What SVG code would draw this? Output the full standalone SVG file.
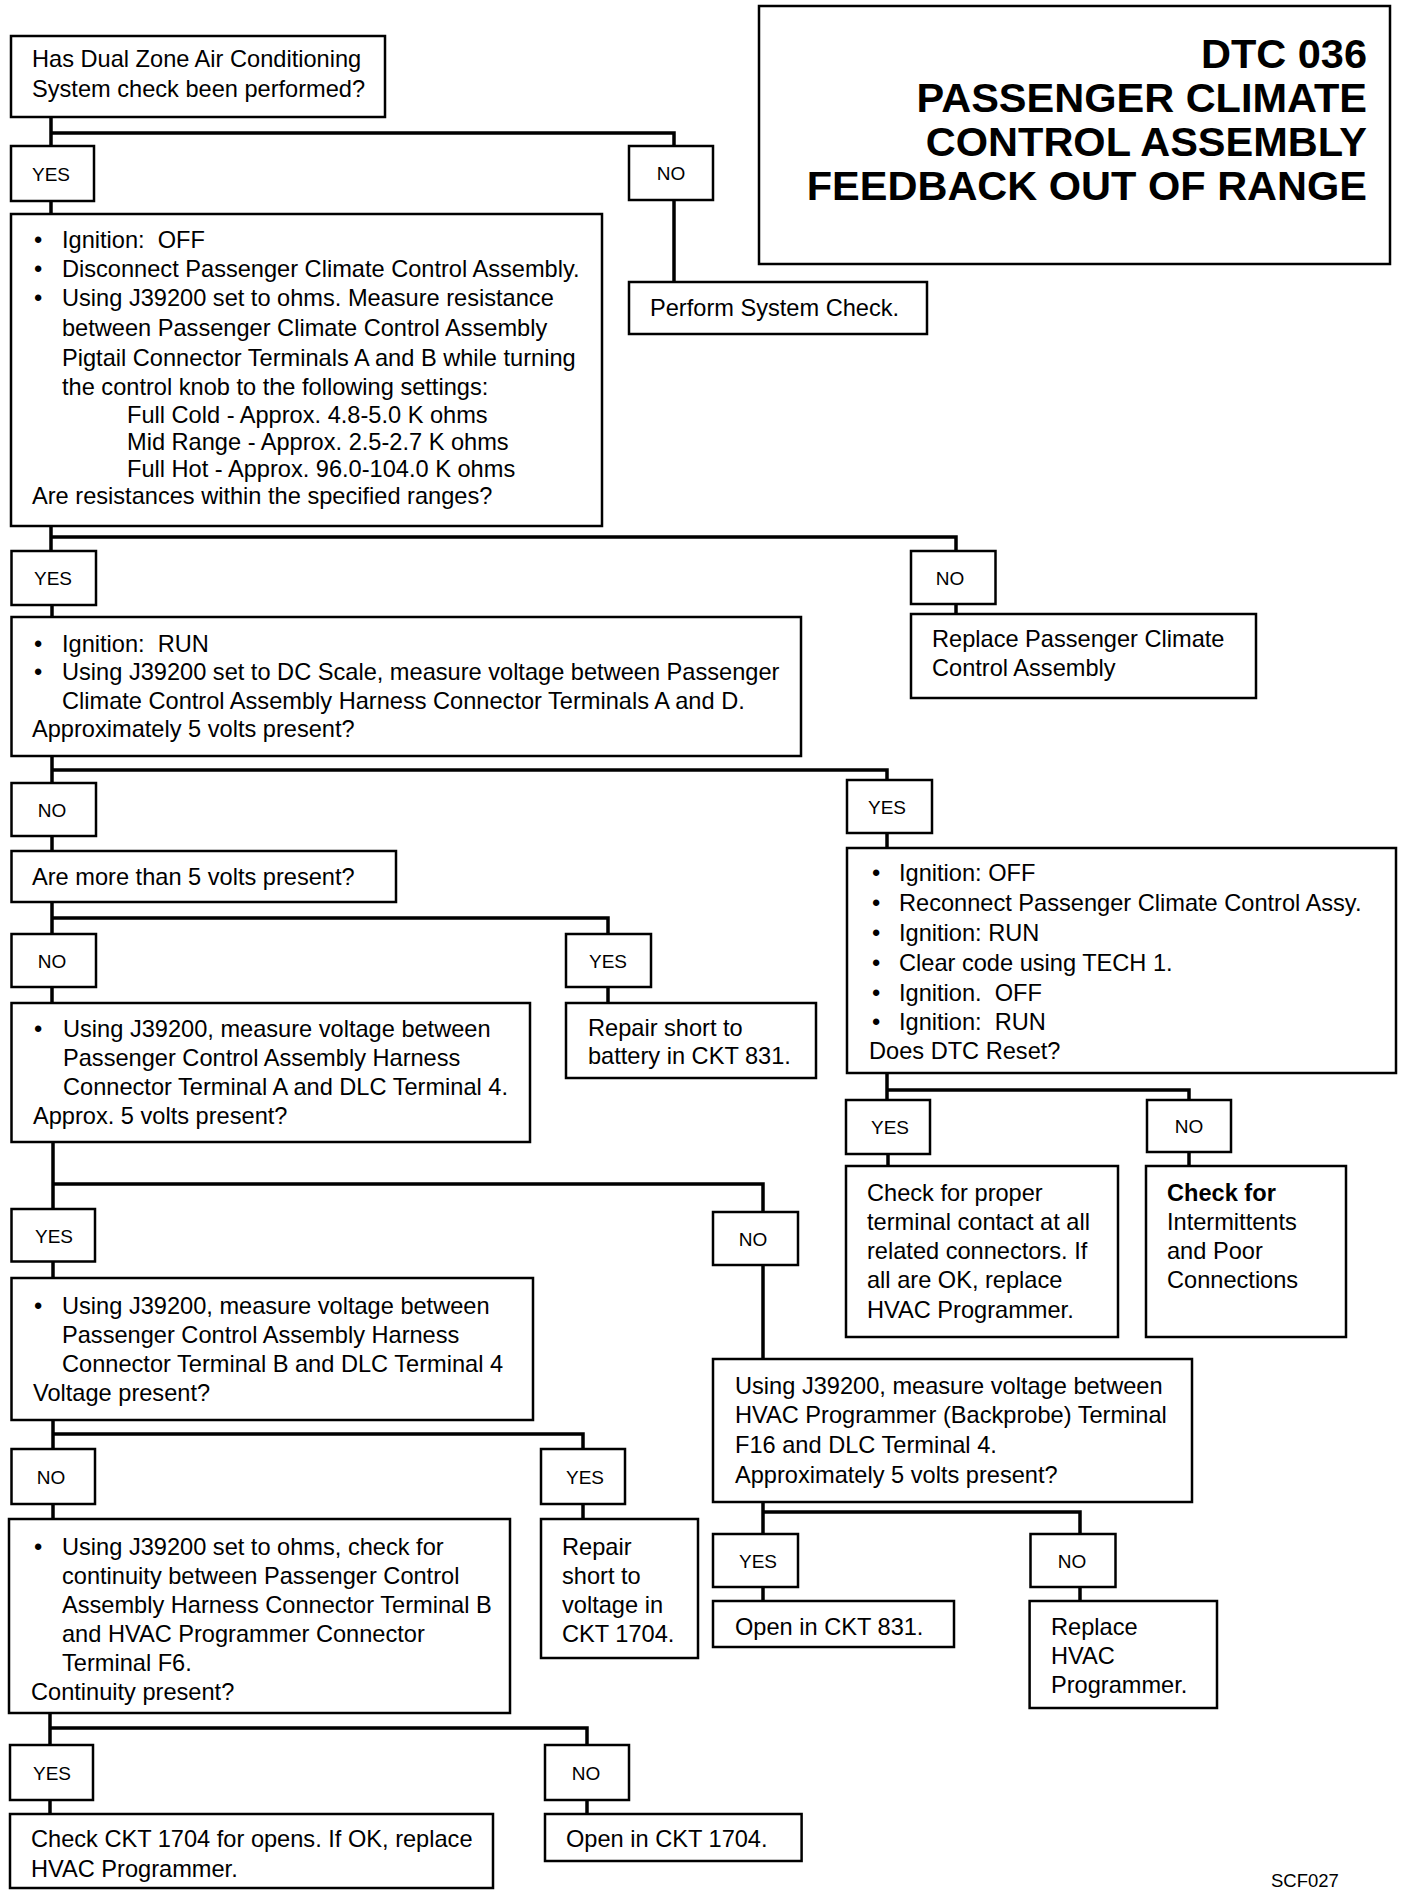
<svg xmlns="http://www.w3.org/2000/svg" width="1408" height="1896" viewBox="0 0 1408 1896">
<style>
.box{fill:#fff;stroke:#000;stroke-width:2.5}
.c{fill:none;stroke:#000;stroke-width:3.5;stroke-linecap:square;stroke-linejoin:miter}
text{font-family:"Liberation Sans",Arial,Helvetica,sans-serif;font-size:23.6px;fill:#000;white-space:pre}
.l{font-size:19px;text-anchor:middle}
.ti{font-weight:bold;font-size:41.5px;text-anchor:end}
.b{font-weight:bold}
.s{font-size:18.5px}
</style>
<rect width="1408" height="1896" fill="#fff"/>
<g id="connectors">
<path class="c" d="M51,117V146M51,133H674V146"/>
<path class="c" d="M51,201V214"/>
<path class="c" d="M674,200V282"/>
<path class="c" d="M51,526V551M51,537H956V551"/>
<path class="c" d="M956,604V614"/>
<path class="c" d="M52,605V617"/>
<path class="c" d="M52,756V783M52,770H887V780"/>
<path class="c" d="M887,833V848"/>
<path class="c" d="M52,836V851"/>
<path class="c" d="M52,902V934M52,918H608V934"/>
<path class="c" d="M52,987V1003"/>
<path class="c" d="M608,987V1003"/>
<path class="c" d="M53,1142V1209M53,1184H763V1212"/>
<path class="c" d="M53,1261V1278"/>
<path class="c" d="M763,1265V1359"/>
<path class="c" d="M53,1420V1449M53,1434H583V1449"/>
<path class="c" d="M53,1504V1519"/>
<path class="c" d="M583,1504V1519"/>
<path class="c" d="M50,1713V1745M50,1728H587V1745"/>
<path class="c" d="M50,1800V1814"/>
<path class="c" d="M587,1800V1814"/>
<path class="c" d="M887,1073V1100M887,1090H1189V1100"/>
<path class="c" d="M888,1154V1166"/>
<path class="c" d="M1189,1152V1166"/>
<path class="c" d="M763,1502V1534M763,1512H1080V1534"/>
<path class="c" d="M763,1587V1601"/>
<path class="c" d="M1080,1587V1601"/>
</g>
<g id="title">
<rect class="box" x="759" y="6" width="631" height="258"/>
<text class="ti" x="1367" y="68">DTC 036</text>
<text class="ti" x="1367" y="112">PASSENGER CLIMATE</text>
<text class="ti" x="1367" y="156">CONTROL ASSEMBLY</text>
<text class="ti" x="1367" y="200">FEEDBACK OUT OF RANGE</text>
</g>
<g id="n_start">
<rect class="box" x="11" y="36" width="374" height="81"/>
<text x="32" y="67">Has Dual Zone Air Conditioning</text>
<text x="32" y="97">System check been performed?</text>
</g>
<g id="l_yes1"><rect class="box" x="11" y="146" width="83" height="55"/><text class="l" x="51" y="181">YES</text></g>
<g id="l_no1"><rect class="box" x="629" y="146" width="84" height="54"/><text class="l" x="671" y="180">NO</text></g>
<g id="n_perform">
<rect class="box" x="629" y="282" width="298" height="52"/>
<text x="650" y="316">Perform System Check.</text>
</g>
<g id="n_resist">
<rect class="box" x="11" y="214" width="591" height="312"/>
<text x="34" y="248">•</text><text x="62" y="248">Ignition:  OFF</text>
<text x="34" y="277">•</text><text x="62" y="277">Disconnect Passenger Climate Control Assembly.</text>
<text x="34" y="306">•</text><text x="62" y="306">Using J39200 set to ohms. Measure resistance</text>
<text x="62" y="336">between Passenger Climate Control Assembly</text>
<text x="62" y="366">Pigtail Connector Terminals A and B while turning</text>
<text x="62" y="395">the control knob to the following settings:</text>
<text x="127" y="423">Full Cold - Approx. 4.8-5.0 K ohms</text>
<text x="127" y="450">Mid Range - Approx. 2.5-2.7 K ohms</text>
<text x="127" y="477">Full Hot - Approx. 96.0-104.0 K ohms</text>
<text x="32" y="504">Are resistances within the specified ranges?</text>
</g>
<g id="l_yes2"><rect class="box" x="11.5" y="551" width="84.5" height="54"/><text class="l" x="53" y="585">YES</text></g>
<g id="l_no2"><rect class="box" x="911" y="551" width="84.5" height="53"/><text class="l" x="950" y="585">NO</text></g>
<g id="n_replace_pcca">
<rect class="box" x="911" y="614" width="345" height="84"/>
<text x="932" y="647">Replace Passenger Climate</text>
<text x="932" y="676">Control Assembly</text>
</g>
<g id="n_run">
<rect class="box" x="11.5" y="617" width="789.5" height="139"/>
<text x="34" y="652">•</text><text x="62" y="652">Ignition:  RUN</text>
<text x="34" y="680">•</text><text x="62" y="680">Using J39200 set to DC Scale, measure voltage between Passenger</text>
<text x="62" y="709">Climate Control Assembly Harness Connector Terminals A and D.</text>
<text x="32" y="737">Approximately 5 volts present?</text>
</g>
<g id="l_no3"><rect class="box" x="11.5" y="783" width="84.5" height="53"/><text class="l" x="52" y="817">NO</text></g>
<g id="l_yes3"><rect class="box" x="847" y="780" width="85" height="53"/><text class="l" x="887" y="814">YES</text></g>
<g id="n_reset">
<rect class="box" x="847" y="848" width="549" height="225"/>
<text x="872" y="881">•</text><text x="899" y="881">Ignition: OFF</text>
<text x="872" y="911">•</text><text x="899" y="911">Reconnect Passenger Climate Control Assy.</text>
<text x="872" y="941">•</text><text x="899" y="941">Ignition: RUN</text>
<text x="872" y="971">•</text><text x="899" y="971">Clear code using TECH 1.</text>
<text x="872" y="1001">•</text><text x="899" y="1001">Ignition.  OFF</text>
<text x="872" y="1030">•</text><text x="899" y="1030">Ignition:  RUN</text>
<text x="869" y="1059">Does DTC Reset?</text>
</g>
<g id="n_more5">
<rect class="box" x="11.5" y="851" width="384.5" height="51"/>
<text x="32" y="885">Are more than 5 volts present?</text>
</g>
<g id="l_no4"><rect class="box" x="11.5" y="934" width="84.5" height="53"/><text class="l" x="52" y="968">NO</text></g>
<g id="l_yes4"><rect class="box" x="566" y="934" width="85" height="53"/><text class="l" x="608" y="968">YES</text></g>
<g id="n_termA">
<rect class="box" x="11.5" y="1003" width="518.5" height="139"/>
<text x="34" y="1037">•</text><text x="63" y="1037">Using J39200, measure voltage between</text>
<text x="63" y="1066">Passenger Control Assembly Harness</text>
<text x="63" y="1095">Connector Terminal A and DLC Terminal 4.</text>
<text x="33" y="1124">Approx. 5 volts present?</text>
</g>
<g id="n_repair_batt">
<rect class="box" x="566" y="1003" width="250" height="75"/>
<text x="588" y="1036">Repair short to</text>
<text x="588" y="1064">battery in CKT 831.</text>
</g>
<g id="l_yes5"><rect class="box" x="846" y="1100" width="84" height="54"/><text class="l" x="890" y="1134">YES</text></g>
<g id="l_no5"><rect class="box" x="1147" y="1100" width="84" height="52"/><text class="l" x="1189" y="1133">NO</text></g>
<g id="n_check_proper">
<rect class="box" x="846" y="1166" width="272" height="171"/>
<text x="867" y="1201">Check for proper</text>
<text x="867" y="1230">terminal contact at all</text>
<text x="867" y="1259">related connectors. If</text>
<text x="867" y="1288">all are OK, replace</text>
<text x="867" y="1318">HVAC Programmer.</text>
</g>
<g id="n_intermittents">
<rect class="box" x="1146" y="1166" width="200" height="171"/>
<text x="1167" y="1201" class="b">Check for</text>
<text x="1167" y="1230">Intermittents</text>
<text x="1167" y="1259">and Poor</text>
<text x="1167" y="1288">Connections</text>
</g>
<g id="l_yes6"><rect class="box" x="11.5" y="1209" width="83.5" height="52.5"/><text class="l" x="54" y="1243">YES</text></g>
<g id="l_no6"><rect class="box" x="713" y="1212" width="85" height="53"/><text class="l" x="753" y="1246">NO</text></g>
<g id="n_termB">
<rect class="box" x="11.5" y="1278" width="521.5" height="142"/>
<text x="34" y="1314">•</text><text x="62" y="1314">Using J39200, measure voltage between</text>
<text x="62" y="1343">Passenger Control Assembly Harness</text>
<text x="62" y="1372">Connector Terminal B and DLC Terminal 4</text>
<text x="33" y="1401">Voltage present?</text>
</g>
<g id="n_backprobe">
<rect class="box" x="713" y="1359" width="479" height="143"/>
<text x="735" y="1394">Using J39200, measure voltage between</text>
<text x="735" y="1423">HVAC Programmer (Backprobe) Terminal</text>
<text x="735" y="1453">F16 and DLC Terminal 4.</text>
<text x="735" y="1483">Approximately 5 volts present?</text>
</g>
<g id="l_no7"><rect class="box" x="11.5" y="1449" width="83.5" height="55"/><text class="l" x="51" y="1484">NO</text></g>
<g id="l_yes7"><rect class="box" x="541" y="1449" width="84" height="55"/><text class="l" x="585" y="1484">YES</text></g>
<g id="n_continuity">
<rect class="box" x="9" y="1519" width="501" height="194"/>
<text x="34" y="1555">•</text><text x="62" y="1555">Using J39200 set to ohms, check for</text>
<text x="62" y="1584">continuity between Passenger Control</text>
<text x="62" y="1613">Assembly Harness Connector Terminal B</text>
<text x="62" y="1642">and HVAC Programmer Connector</text>
<text x="62" y="1671">Terminal F6.</text>
<text x="31" y="1700">Continuity present?</text>
</g>
<g id="n_repair_volt">
<rect class="box" x="541" y="1519" width="157" height="139"/>
<text x="562" y="1555">Repair</text>
<text x="562" y="1584">short to</text>
<text x="562" y="1613">voltage in</text>
<text x="562" y="1642">CKT 1704.</text>
</g>
<g id="l_yes8"><rect class="box" x="713" y="1534" width="85" height="53"/><text class="l" x="758" y="1568">YES</text></g>
<g id="l_no8"><rect class="box" x="1030.5" y="1534" width="85" height="53"/><text class="l" x="1072" y="1568">NO</text></g>
<g id="n_open831">
<rect class="box" x="713" y="1601" width="241" height="46"/>
<text x="735" y="1635">Open in CKT 831.</text>
</g>
<g id="n_replace_hvac">
<rect class="box" x="1029.6" y="1601" width="187.4" height="107"/>
<text x="1051" y="1635">Replace</text>
<text x="1051" y="1664">HVAC</text>
<text x="1051" y="1693">Programmer.</text>
</g>
<g id="l_yes9"><rect class="box" x="10" y="1745" width="83" height="55"/><text class="l" x="52" y="1780">YES</text></g>
<g id="l_no9"><rect class="box" x="545" y="1745" width="84" height="55"/><text class="l" x="586" y="1780">NO</text></g>
<g id="n_check1704">
<rect class="box" x="10" y="1814" width="483" height="74"/>
<text x="31" y="1847">Check CKT 1704 for opens. If OK, replace</text>
<text x="31" y="1877">HVAC Programmer.</text>
</g>
<g id="n_open1704">
<rect class="box" x="545" y="1814" width="256.6" height="47"/>
<text x="566" y="1847">Open in CKT 1704.</text>
</g>
<text class="s" x="1271" y="1887">SCF027</text>
</svg>
